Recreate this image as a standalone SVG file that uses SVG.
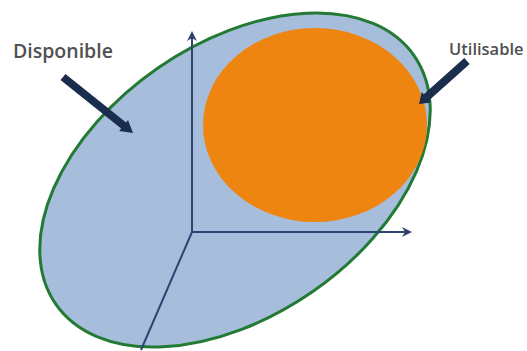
<svg xmlns="http://www.w3.org/2000/svg" width="527" height="351" viewBox="0 0 527 351">
<style>
.lbl{font-family:"Open Sans","Liberation Sans",sans-serif;fill:#505050;font-weight:600}
.axis{stroke:#2d4470;stroke-width:2;fill:none}
.callout{fill:#1b2d4d}
</style>
<defs>
<marker id="ah" viewBox="0 0 10 10" refX="8" refY="5" markerWidth="5" markerHeight="5" orient="auto" markerUnits="strokeWidth">
<path d="M0,0 L10,5 L0,10 L3,5 Z" fill="#2d4470"/>
</marker>
</defs>
<rect width="527" height="351" fill="#ffffff"/>
<g id="disponible">
<ellipse cx="235" cy="180" rx="218" ry="136" transform="rotate(-34.7 235 180)" fill="#a6bedc" stroke="#237a34" stroke-width="3"/>
</g>
<g id="utilisable">
<ellipse cx="315" cy="125" rx="112" ry="97" fill="#ee8510"/>
</g>
<g id="connectors">
<line class="axis" x1="192" y1="232" x2="192" y2="33" marker-end="url(#ah)"/>
<line class="axis" x1="192" y1="232" x2="410" y2="232" marker-end="url(#ah)"/>
<line class="axis" x1="192" y1="232" x2="141" y2="350"/>
<polygon class="callout" points="60.5,80.1 121.1,128.6 119.2,131 133,133 128,120 126.1,122.4 65.5,73.9"/>
<polygon class="callout" points="469.7,64 429.2,100.3 431.2,102.5 419,104 421.8,92.1 423.8,94.3 464.3,58"/>
</g>
<g id="labels">
<text class="lbl" x="13" y="58" font-size="19.5">Disponible</text>
<text class="lbl" x="449" y="55" font-size="16.5">Utilisable</text>
</g>
</svg>
